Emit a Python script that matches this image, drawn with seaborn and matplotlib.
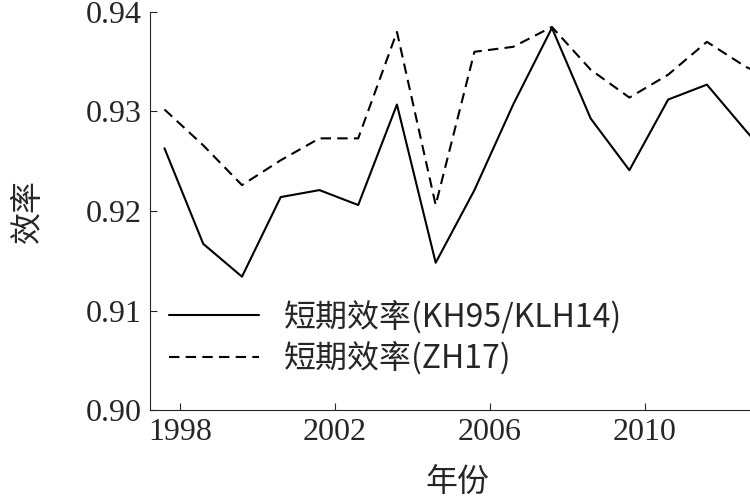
import numpy as np
import pandas as pd
import matplotlib
matplotlib.use("Agg")
import matplotlib.pyplot as plt
import seaborn as sns

# values (yearly points, offset from tick years)
years = [1997.6 + i for i in range(17)]
short_kh = [0.9263, 0.9167, 0.9134, 0.9214, 0.9221, 0.9206, 0.9307, 0.9148, 0.9221,
            0.9307, 0.9384, 0.9293, 0.9241, 0.9312, 0.9327, 0.9281, 0.9236]
short_zh = [0.9302, 0.9266, 0.9226, 0.9251, 0.9273, 0.9273, 0.9380, 0.9206, 0.9360,
            0.9365, 0.9385, 0.9342, 0.9314, 0.9337, 0.9370, 0.9345, 0.9327]
labels = ["短期效率(KH95/KLH14)", "短期效率(ZH17)"]
xticks = [1998, 2002, 2006, 2010]
yticks = [0.90, 0.91, 0.92, 0.93, 0.94]

sns.set_style("ticks")
plt.rcParams["font.family"] = ["Liberation Serif", "Noto Sans CJK SC"]

df = pd.DataFrame({"year": years * 2,
                   "eff": short_kh + short_zh,
                   "series": [labels[0]] * 17 + [labels[1]] * 17})

fig = plt.figure(figsize=(7.5, 5), dpi=100)
ax = fig.add_axes([0.2, 0.18, 0.82, 0.796])
sns.lineplot(data=df, x="year", y="eff", hue="series", style="series",
             palette=["black", "black"], dashes=[(None, None), (5, 3)],
             linewidth=1.5, ax=ax)
ax.set_xlim(1997.226, 2013.1)
ax.set_ylim(0.90, 0.94)
ax.set_xticks(xticks)
ax.set_yticks(yticks)
ax.set_yticklabels([f"{v:.2f}" for v in yticks])
ax.tick_params(direction="in", labelsize=23, length=5, pad=6)
ax.set_xlabel("年份", fontsize=23, family=["Noto Sans CJK SC"], labelpad=14)
ax.set_ylabel("效率", fontsize=23, family=["Noto Sans CJK SC"], labelpad=30)
sns.despine(ax=ax, top=True, right=True)
leg = ax.legend(loc="lower left", bbox_to_anchor=(0.0, 0.04), frameon=False,
                fontsize=23, handlelength=2.8, labelspacing=0.25,
                borderaxespad=0.2)
for t in leg.get_texts():
    t.set_family(["Noto Sans CJK SC", "Liberation Serif"])
fig.savefig("out.png", dpi=100)
